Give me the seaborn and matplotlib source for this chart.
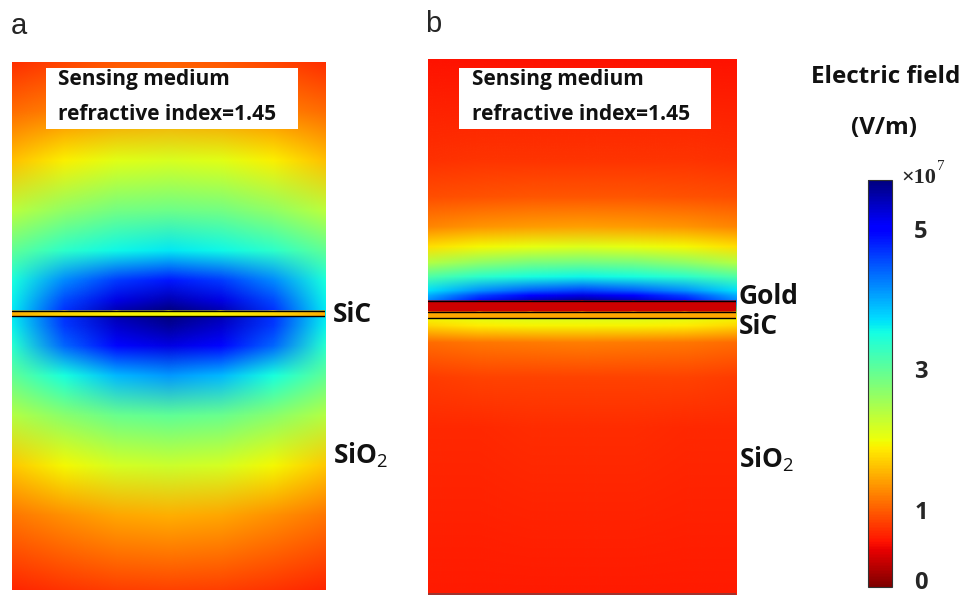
import numpy as np
import matplotlib
matplotlib.use("Agg")
import matplotlib.pyplot as plt
from matplotlib.image import NonUniformImage
import seaborn as sns

sns.set_theme(style="white")
plt.rcParams["font.family"] = ["Open Sans", "DejaVu Sans"]
plt.rcParams["mathtext.fontset"] = "custom"
plt.rcParams["mathtext.rm"] = "Open Sans"
plt.rcParams["mathtext.bf"] = "Open Sans:bold"

# ---- field readings (units of 1e7 V/m) ----
# each row: edge, 1/6 width, 1/3 width, centre  (mirrored to the other side)
col_frac = [0.0, 1 / 6, 1 / 3, 0.5, 2 / 3, 5 / 6, 1.0]

# panel a: distance (px) from the SiC layer
a_dist_above = [0, 10, 30, 60, 100, 150, 200, 250]
a_above = [
    [3.65, 4.70, 5.45, 5.70],
    [3.60, 4.55, 5.20, 5.45],
    [3.50, 4.20, 4.65, 4.85],
    [3.00, 3.35, 3.55, 3.65],
    [2.35, 2.65, 2.85, 2.90],
    [1.60, 1.90, 2.08, 2.15],
    [1.10, 1.22, 1.32, 1.35],
    [0.70, 0.85, 0.95, 1.00],
]
a_dist_below = [0, 10, 30, 60, 100, 150, 200, 274]
a_below = [
    [3.65, 4.70, 5.45, 5.70],
    [3.60, 4.65, 5.30, 5.55],
    [3.40, 4.40, 4.95, 5.20],
    [3.00, 3.50, 3.92, 4.10],
    [2.40, 2.70, 2.93, 3.00],
    [1.65, 1.95, 2.18, 2.25],
    [1.15, 1.32, 1.45, 1.50],
    [0.65, 0.75, 0.82, 0.85],
]
a_sic = [1.5, 1.75, 1.9, 1.95]

# panel b: distance (px) from the gold / SiC stack
b_dist_above = [0, 5, 10, 24, 38, 54, 74, 104, 140, 241]
b_above = [
    [4.20, 4.90, 5.40, 5.60],
    [4.00, 4.60, 5.00, 5.20],
    [3.70, 4.15, 4.45, 4.60],
    [3.10, 3.35, 3.50, 3.55],
    [2.40, 2.65, 2.80, 2.85],
    [1.80, 1.95, 2.05, 2.10],
    [1.25, 1.33, 1.38, 1.40],
    [0.90, 0.93, 0.95, 0.96],
    [0.72, 0.74, 0.75, 0.76],
    [0.55, 0.55, 0.55, 0.55],
]
b_dist_below = [0, 8, 25, 60, 110, 277]
b_below = [
    [1.95, 2.08, 2.15, 2.15],
    [1.75, 1.88, 1.93, 1.93],
    [1.10, 1.15, 1.18, 1.20],
    [0.80, 0.83, 0.85, 0.85],
    [0.68, 0.68, 0.70, 0.70],
    [0.58, 0.58, 0.58, 0.58],
]
b_gold = [0.3, 0.3, 0.3, 0.3]
b_sic = [1.45, 1.45, 1.45, 1.45]

cbar_ticks = [0, 1, 3, 5]
vmin, vmax = -0.1, 5.7

cmap = sns.color_palette("jet_r", as_cmap=True)
norm = plt.Normalize(vmin, vmax)

W, H = 968, 598
fig = plt.figure(figsize=(W / 100, H / 100), dpi=100)


def px_axes(x0, y0, x1, y1):
    return fig.add_axes([x0 / W, 1 - y1 / H, (x1 - x0) / W, (y1 - y0) / H])


def mirror(rows):
    rows = np.asarray(rows, dtype=float)
    return np.hstack([rows, rows[:, -2::-1]])


def field_image(ax, width, height, u_top, dist_above, above,
                u_bot, dist_below, below):
    # one image per panel: rows below the layer (bottom up), then above it
    xs = np.array(col_frac) * width
    u = np.concatenate([u_bot - np.array(dist_below)[::-1],
                        u_top + np.array(dist_above)])
    vals = np.vstack([mirror(below)[::-1], mirror(above)])
    im = NonUniformImage(ax, interpolation="bilinear", cmap=cmap, norm=norm,
                         extent=(0, width, 0, height))
    im.set_data(xs, u, vals)
    ax.add_image(im)


def draw_layer(ax, width, u0, u1, vals):
    xs = np.array(col_frac) * width
    v = mirror([vals])[0]
    ax.pcolormesh(xs, [u0, u1], np.vstack([v, v]), shading="gouraud",
                  cmap=cmap, norm=norm)


# ---- panel a (coordinates: px up from bottom of the panel) ----
Wa, Ha = 313, 527
axa = px_axes(12, 63, 12 + Wa, 63 + Ha)
a_top, a_bot = Ha - 248, Ha - 253
field_image(axa, Wa, Ha, a_top, a_dist_above, a_above,
            a_bot, a_dist_below, a_below)
draw_layer(axa, Wa, a_bot, a_top, a_sic)
for u in (a_bot, a_top):
    axa.axhline(u, color="black", lw=1.0)
axa.set_xlim(0, Wa)
axa.set_ylim(0, Ha)
axa.axis("off")

# ---- panel b ----
Wb, Hb = 308, 535
axb = px_axes(428, 60, 428 + Wb, 60 + Hb)
b_top, b_mid, b_bot = Hb - 241, Hb - 252, Hb - 258
field_image(axb, Wb, Hb, b_top, b_dist_above, b_above,
            b_bot, b_dist_below, b_below)
draw_layer(axb, Wb, b_mid, b_top, b_gold)
draw_layer(axb, Wb, b_bot, b_mid, b_sic)
for u in (b_top, b_mid, b_bot):
    axb.axhline(u, color="black", lw=1.0)
axb.axhline(0.6, color="#8a3a3a", lw=1.2)
axb.set_xlim(0, Wb)
axb.set_ylim(0, Hb)
axb.axis("off")

# ---- text boxes ----
for x0, tx in ((46, 58), (459, 472)):
    fig.patches.append(plt.Rectangle((x0 / W, 1 - 129 / H), 252 / W, 61 / H,
                                     transform=fig.transFigure,
                                     facecolor="white", edgecolor="none"))
    fig.text(tx / W, 1 - 80 / H, "Sensing medium", fontsize=15,
             fontweight="bold", va="center", ha="left", color="#111111")
    fig.text(tx / W, 1 - 115 / H, "refractive index=1.45", fontsize=15,
             fontweight="bold", va="center", ha="left", color="#111111")

# ---- panel letters ----
fig.text(11 / W, 1 - 26 / H, "a", fontsize=21, family="Liberation Sans",
         va="center", ha="left")
fig.text(425 / W, 1 - 24 / H, "b", fontsize=21, family="Liberation Sans",
         va="center", ha="left")

# ---- layer labels ----
lab = dict(fontsize=19, fontweight="bold", va="center", ha="left",
           color="#111111")
fig.text(333 / W, 1 - 314 / H, "SiC", **lab)
fig.text(333 / W, 1 - 455 / H, "SiO$_2$", **lab)
fig.text(739 / W, 1 - 297 / H, "Gold", **lab)
fig.text(739 / W, 1 - 326 / H, "SiC", **lab)
fig.text(739 / W, 1 - 459 / H, "SiO$_2$", **lab)

# ---- colorbar ----
cax = px_axes(868, 180, 892, 587)
sm = plt.cm.ScalarMappable(cmap=cmap, norm=norm)
cb = fig.colorbar(sm, cax=cax)
cb.outline.set_edgecolor("#333333")
cb.outline.set_linewidth(0.8)
cb.set_ticks(cbar_ticks)
cb.set_ticklabels([str(t) for t in cbar_ticks])
cax.set_yticks([2, 4], minor=True)
cax.tick_params(which="both", direction="in", left=True, right=True,
                length=4, width=0.8, color="#333333", labelsize=17, pad=16)
for t in cax.get_yticklabels():
    t.set_fontweight("bold")

fig.text(886 / W, 1 - 77 / H, "Electric field", fontsize=17.5,
         fontweight="bold", ha="center", va="center", color="#111111")
fig.text(884 / W, 1 - 128 / H, "(V/m)", fontsize=17.5,
         fontweight="bold", ha="center", va="center", color="#111111")
mult = fig.text(901 / W, 1 - 178 / H, "×10", fontsize=16,
                family="Liberation Serif", fontweight="bold",
                ha="left", va="center")
cax.annotate("7", xy=(1.0, 0.75), xycoords=mult, xytext=(1, 0),
             textcoords="offset points", fontsize=11,
             family="Liberation Serif", ha="left", va="bottom",
             annotation_clip=False)

fig.savefig("out.png", dpi=100)
